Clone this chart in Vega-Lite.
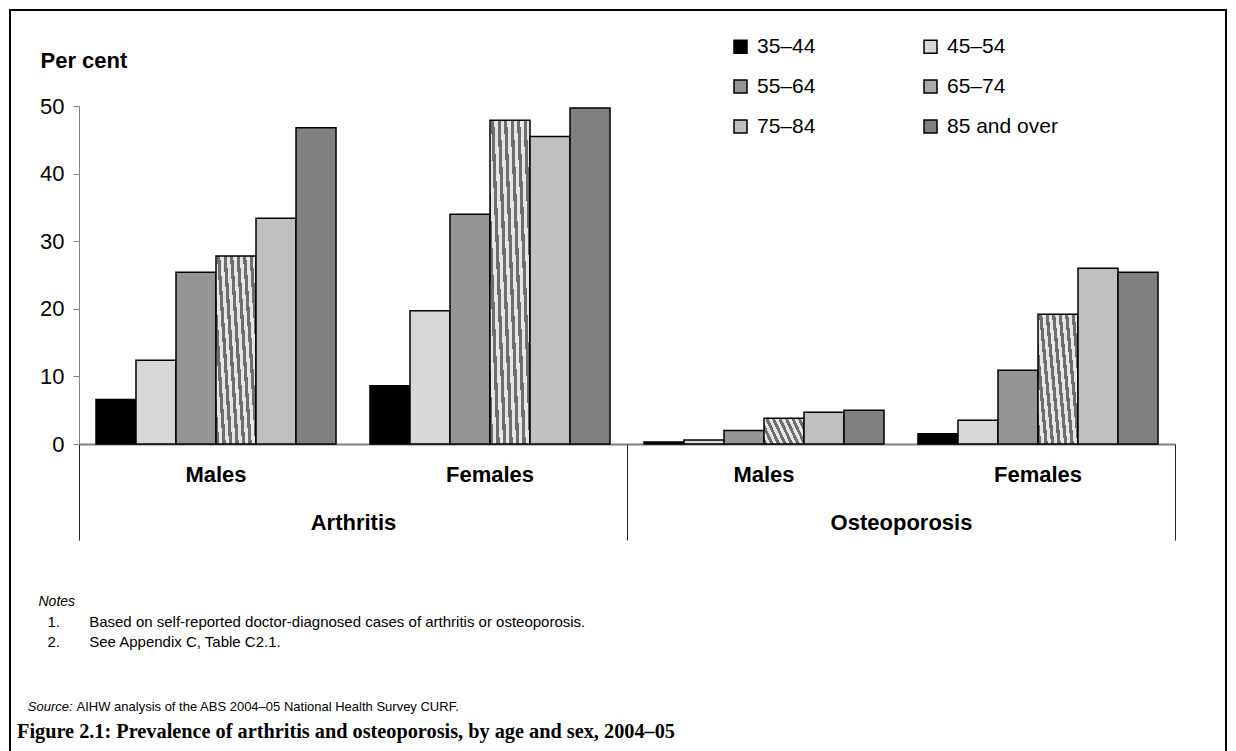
{
  "$schema": "https://vega.github.io/schema/vega-lite/v6.json",
  "width": 1216,
  "height": 745,
  "autosize": {"type": "none"},
  "padding": {"left": 10, "top": 10, "right": 10, "bottom": 0},
  "background": "white",
  "config": {
    "view": {"stroke": "#000000", "strokeWidth": 2},
    "font": "Liberation Sans",
    "axis": {"grid": false, "labelFont": "Liberation Sans", "titleFont": "Liberation Sans", "labelColor": "#000000", "titleColor": "#000000"},
    "legend": {"labelFont": "Liberation Sans", "labelColor": "#000000"}
  },
  "title": {
    "text": "Figure 2.1: Prevalence of arthritis and osteoporosis, by age and sex, 2004–05",
    "subtitle": "\u200b\u00a0\u00a0\u00a0Source:",
    "orient": "bottom",
    "anchor": "start",
    "frame": "group",
    "offset": -33,
    "dx": 7,
    "font": "Liberation Serif",
    "fontSize": 20.3,
    "fontWeight": "bold",
    "color": "#000000",
    "subtitleFont": "Liberation Sans",
    "subtitleFontSize": 13,
    "subtitleFontStyle": "italic",
    "subtitleColor": "#000000",
    "subtitlePadding": -41
  },
  "data": {
    "values": [
      {"disease": "Arthritis", "sex": "Males", "panel": "Arthritis Males", "age": "35–44", "value": 6.6},
      {"disease": "Arthritis", "sex": "Males", "panel": "Arthritis Males", "age": "45–54", "value": 12.4},
      {"disease": "Arthritis", "sex": "Males", "panel": "Arthritis Males", "age": "55–64", "value": 25.4},
      {"disease": "Arthritis", "sex": "Males", "panel": "Arthritis Males", "age": "65–74", "value": 27.8},
      {"disease": "Arthritis", "sex": "Males", "panel": "Arthritis Males", "age": "75–84", "value": 33.4},
      {"disease": "Arthritis", "sex": "Males", "panel": "Arthritis Males", "age": "85 and over", "value": 46.8},
      {"disease": "Arthritis", "sex": "Females", "panel": "Arthritis Females", "age": "35–44", "value": 8.6},
      {"disease": "Arthritis", "sex": "Females", "panel": "Arthritis Females", "age": "45–54", "value": 19.7},
      {"disease": "Arthritis", "sex": "Females", "panel": "Arthritis Females", "age": "55–64", "value": 34.0},
      {"disease": "Arthritis", "sex": "Females", "panel": "Arthritis Females", "age": "65–74", "value": 47.9},
      {"disease": "Arthritis", "sex": "Females", "panel": "Arthritis Females", "age": "75–84", "value": 45.5},
      {"disease": "Arthritis", "sex": "Females", "panel": "Arthritis Females", "age": "85 and over", "value": 49.7},
      {"disease": "Osteoporosis", "sex": "Males", "panel": "Osteoporosis Males", "age": "35–44", "value": 0.3},
      {"disease": "Osteoporosis", "sex": "Males", "panel": "Osteoporosis Males", "age": "45–54", "value": 0.6},
      {"disease": "Osteoporosis", "sex": "Males", "panel": "Osteoporosis Males", "age": "55–64", "value": 2.0},
      {"disease": "Osteoporosis", "sex": "Males", "panel": "Osteoporosis Males", "age": "65–74", "value": 3.8},
      {"disease": "Osteoporosis", "sex": "Males", "panel": "Osteoporosis Males", "age": "75–84", "value": 4.7},
      {"disease": "Osteoporosis", "sex": "Males", "panel": "Osteoporosis Males", "age": "85 and over", "value": 5.0},
      {"disease": "Osteoporosis", "sex": "Females", "panel": "Osteoporosis Females", "age": "35–44", "value": 1.5},
      {"disease": "Osteoporosis", "sex": "Females", "panel": "Osteoporosis Females", "age": "45–54", "value": 3.5},
      {"disease": "Osteoporosis", "sex": "Females", "panel": "Osteoporosis Females", "age": "55–64", "value": 10.9},
      {"disease": "Osteoporosis", "sex": "Females", "panel": "Osteoporosis Females", "age": "65–74", "value": 19.2},
      {"disease": "Osteoporosis", "sex": "Females", "panel": "Osteoporosis Females", "age": "75–84", "value": 26.0},
      {"disease": "Osteoporosis", "sex": "Females", "panel": "Osteoporosis Females", "age": "85 and over", "value": 25.4}
    ]
  },
  "layer": [
    {
      "mark": {"type": "bar", "stroke": "#000000", "strokeWidth": 1.5},
      "encoding": {
        "x": {
          "field": "panel",
          "type": "nominal",
          "scale": {
            "domain": ["Arthritis Males", "Arthritis Females", "Osteoporosis Males", "Osteoporosis Females"],
            "range": [69, 1165],
            "paddingInner": 0.124,
            "paddingOuter": 0.062
          },
          "axis": {
            "orient": "bottom",
            "offset": -311,
            "labelExpr": "split(datum.value, ' ')[1]",
            "labelAngle": 0,
            "labelFontSize": 22,
            "labelFontWeight": "bold",
            "labelPadding": 20,
            "ticks": false,
            "tickSize": 0,
            "domainColor": "#808080",
            "domainWidth": 2,
            "title": "Notes",
            "titleFontStyle": "italic",
            "titleFontWeight": "normal",
            "titleFontSize": 14,
            "titleX": 28,
            "titleY": 157,
            "titleAlign": "left",
            "titleBaseline": "middle"
          }
        },
        "xOffset": {
          "field": "age",
          "type": "nominal",
          "scale": {"domain": ["35–44", "45–54", "55–64", "65–74", "75–84", "85 and over"], "paddingInner": 0, "paddingOuter": 0}
        },
        "y": {
          "field": "value",
          "type": "quantitative",
          "scale": {"domain": [0, 50], "range": [434, 96], "nice": false},
          "axis": {
            "offset": -69,
            "values": [0, 10, 20, 30, 40, 50],
            "tickSize": 6,
            "tickColor": "#808080",
            "domainColor": "#808080",
            "labelFontSize": 22,
            "labelPadding": 9,
            "title": "Per cent",
            "titleAngle": 0,
            "titleX": -39,
            "titleY": 50,
            "titleAlign": "left",
            "titleBaseline": "middle",
            "titleFontSize": 22,
            "titleFontWeight": "bold"
          }
        },
        "fill": {
          "field": "age",
          "type": "nominal",
          "scale": {
            "domain": ["35–44", "45–54", "55–64", "65–74", "75–84", "85 and over"],
            "range": ["#000000", "#d8d8d8", "#959595", "#ababab", "#c0c0c0", "#808080"]
          },
          "condition": {
            "test": "datum.age === '65–74'",
            "value": {
              "gradient": "linear",
              "x1": 0, "y1": 1, "x2": 1.193, "y2": 0.642,
              "stops": [
                {"offset": 0, "color": "#6e6e6e"}, {"offset": 0.0625, "color": "#6e6e6e"},
                {"offset": 0.0625, "color": "#e6e6e6"}, {"offset": 0.125, "color": "#e6e6e6"},
                {"offset": 0.125, "color": "#6e6e6e"}, {"offset": 0.1875, "color": "#6e6e6e"},
                {"offset": 0.1875, "color": "#e6e6e6"}, {"offset": 0.25, "color": "#e6e6e6"},
                {"offset": 0.25, "color": "#6e6e6e"}, {"offset": 0.3125, "color": "#6e6e6e"},
                {"offset": 0.3125, "color": "#e6e6e6"}, {"offset": 0.375, "color": "#e6e6e6"},
                {"offset": 0.375, "color": "#6e6e6e"}, {"offset": 0.4375, "color": "#6e6e6e"},
                {"offset": 0.4375, "color": "#e6e6e6"}, {"offset": 0.5, "color": "#e6e6e6"},
                {"offset": 0.5, "color": "#6e6e6e"}, {"offset": 0.5625, "color": "#6e6e6e"},
                {"offset": 0.5625, "color": "#e6e6e6"}, {"offset": 0.625, "color": "#e6e6e6"},
                {"offset": 0.625, "color": "#6e6e6e"}, {"offset": 0.6875, "color": "#6e6e6e"},
                {"offset": 0.6875, "color": "#e6e6e6"}, {"offset": 0.75, "color": "#e6e6e6"},
                {"offset": 0.75, "color": "#6e6e6e"}, {"offset": 0.8125, "color": "#6e6e6e"},
                {"offset": 0.8125, "color": "#e6e6e6"}, {"offset": 0.875, "color": "#e6e6e6"},
                {"offset": 0.875, "color": "#6e6e6e"}, {"offset": 0.9375, "color": "#6e6e6e"},
                {"offset": 0.9375, "color": "#e6e6e6"}, {"offset": 1, "color": "#e6e6e6"}
              ]
            }
          },
          "legend": {
            "orient": "none",
            "legendX": 720,
            "legendY": 26,
            "columns": 2,
            "values": ["35–44", "55–64", "75–84", "45–54", "65–74", "85 and over"],
            "title": null,
            "symbolType": "square",
            "symbolSize": 169,
            "symbolStrokeColor": "#000000",
            "symbolStrokeWidth": 1.5,
            "symbolOpacity": 1,
            "labelFontSize": 21,
            "labelOffset": 6,
            "columnPadding": 104,
            "rowPadding": 18,
            "padding": 0
          }
        }
      }
    },
    {
      "mark": {"type": "point", "opacity": 0},
      "encoding": {
        "x": {
          "field": "disease",
          "type": "nominal",
          "scale": {"type": "band", "domain": ["Arthritis", "Osteoporosis"], "range": [69, 1165], "paddingInner": 0, "paddingOuter": 0},
          "axis": {
            "orient": "bottom",
            "offset": -311,
            "domain": false,
            "tickBand": "extent",
            "tickSize": 96,
            "tickColor": "#222222",
            "tickWidth": 1,
            "labelAngle": 0,
            "labelFontSize": 22,
            "labelFontWeight": "bold",
            "labelPadding": -28,
            "title": ["1.\u00a0\u00a0\u00a0\u00a0\u00a0\u00a0\u00a0Based on self-reported doctor-diagnosed cases of arthritis or osteoporosis.", "2.\u00a0\u00a0\u00a0\u00a0\u00a0\u00a0\u00a0See Appendix C, Table C2.1."],
            "titleFontSize": 15,
            "titleFontWeight": "normal",
            "titleX": 37,
            "titleY": 170,
            "titleAlign": "left",
            "titleBaseline": "top",
            "titleLineHeight": 20
          }
        },
        "y": {
          "field": "value",
          "type": "quantitative",
          "axis": {
            "orient": "right",
            "labels": false,
            "ticks": false,
            "domain": false,
            "grid": false,
            "title": "AIHW analysis of the ABS 2004–05 National Health Survey CURF.",
            "titleAngle": 0,
            "titleX": -1150,
            "titleY": 696,
            "titleAlign": "left",
            "titleBaseline": "middle",
            "titleFontSize": 13,
            "titleFontWeight": "normal"
          }
        }
      }
    }
  ],
  "resolve": {
    "scale": {"x": "independent", "y": "independent"},
    "axis": {"x": "independent", "y": "independent"}
  }
}
